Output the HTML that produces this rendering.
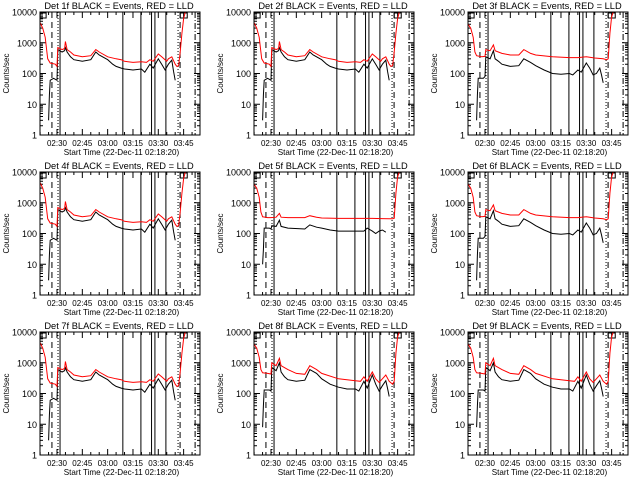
<!DOCTYPE html>
<html><head><meta charset="utf-8"><style>
html,body{margin:0;padding:0;background:#fff;}
svg{display:block;font-family:"Liberation Sans",sans-serif;}
</style></head><body>
<svg id="chart" width="640" height="480" viewBox="0 0 640 480" xmlns="http://www.w3.org/2000/svg">
<rect x="0" y="0" width="640" height="480" fill="#fff"/>
</svg>
<script>
// Time in minutes relative to 02:30 (start 02:18:20 is about -10)
const tickLabels = ["02:30","02:45","03:00","03:15","03:30","03:45"];
const tickMinutes = [0,15,30,45,60,75];
const yTickValues = [1,10,100,1000,10000];
const yTickLabels = ["1","10","100","1000","10000"];
const panelTitles = ["Det 1f","Det 2f","Det 3f","Det 4f","Det 5f","Det 6f","Det 7f","Det 8f","Det 9f"];
const profileOfPanel = [0,0,1,0,2,1,0,3,3];

// Profile A (Det 1,2,4,7)
const redT_A = [-10,-8.5,-7,-6,-5.5,-4,-1,0,0.5,3,4.5,5,6,8,10,15,20,23,25,30,35,38,40,45,50,53,55,57,60,62,65,66,68,70,71,72,73,74,75,76,84.7];
const redV_A = [4500,3000,1500,500,300,220,200,170,700,600,650,1100,600,500,400,350,380,600,500,350,300,280,250,230,240,230,280,250,430,350,250,300,350,200,170,180,500,2000,6000,10000,10000];
const blkT_A = [-5,-4.5,-4,-2,0,0.5,3,4.5,5,6,8,10,15,20,23,25,30,33,35,38,40,45,50,52,55,57,60,62,64,66,68,69,70];
const blkV_A = [3,20,60,70,60,600,500,550,700,500,350,280,250,280,500,400,280,200,170,150,140,130,140,110,200,150,300,200,130,200,270,120,60];
// Profile B (Det 3,6)
const redT_B = [-10,-8.5,-7,-6,-5,-2,0,0.5,3,5,6,10,15,20,23,27,30,40,50,55,60,65,70,72,73,74,75,76,84.7];
const redV_B = [4000,3000,1500,500,380,350,360,600,550,850,550,450,400,400,600,450,400,350,330,330,350,320,300,280,300,2000,7000,10000,10000];
const blkT_B = [-5,-4.5,-4,-2,-1,0,0.5,3,5,6,8,10,15,20,23,27,30,35,40,45,50,52,55,57,60,62,64,66,68,69,70];
const blkV_B = [3,20,70,70,70,80,350,300,550,300,250,200,170,180,300,230,180,130,100,95,100,90,130,110,220,150,90,100,150,90,50];
// Profile C (Det 5)
const redT_C = [-10,-8.5,-7,-6,-5,-2,0,3,5,6,10,20,23,27,30,40,50,60,70,72,73,74,75,76,84.7];
const redV_C = [4000,3000,1500,500,350,330,330,340,450,340,330,330,380,340,320,310,310,310,300,300,310,2000,7000,10000,10000];
const blkT_C = [-5,-4.5,-4,-2,-1,0,0.5,3,5,6,10,20,23,27,30,35,40,50,55,57,60,62,64,66,68];
const blkV_C = [10,30,150,150,150,140,180,170,270,170,150,140,190,160,150,130,120,120,120,150,120,100,120,130,110];
// Profile D (Det 8,9)
const redT_D = [-10,-8.5,-7,-6,-5,-2,0,0.5,3,5,6,10,15,20,23,27,30,40,50,53,55,57,60,62,64,66,68,70,72,73,74,75,76,84.7];
const redV_D = [4000,3000,1500,600,470,450,430,1000,800,1400,800,600,450,420,800,600,450,300,260,250,350,250,500,300,230,300,400,250,200,250,2000,7000,10000,10000];
const blkT_D = [-5,-4.5,-4,-2,-1,0,0.5,3,5,6,8,10,15,20,23,27,30,35,40,45,50,52,55,57,60,62,64,66,68,69,70];
const blkV_D = [8,40,130,130,130,120,700,550,1000,500,350,280,250,270,600,450,300,200,160,140,140,120,250,150,400,200,120,180,260,150,80];

const redTimes = [redT_A, redT_B, redT_C, redT_D];
const redVals = [redV_A, redV_B, redV_C, redV_D];
const blkTimes = [blkT_A, blkT_B, blkT_C, blkT_D];
const blkVals = [blkV_A, blkV_B, blkV_C, blkV_D];

const markerMinutes = [-3,0.6,1.8,39,49.7,56,58,64.5,71.7,72.9,81.8];
const markerStyles = ["dash","dot","solid","solid","solid","solid","solid","solid","dot","dash","dashdot"];

const NS = "http://www.w3.org/2000/svg";
const svg = document.getElementById("chart");
const colX = [40,254,468], rowY = [12,172,332], W = 160, H = 123;
const tMin = -10.07, tMax = 84.7;

function el(tag, attrs, parent) {
  const e = document.createElementNS(NS, tag);
  for (const k in attrs) e.setAttribute(k, attrs[k]);
  (parent || svg).appendChild(e);
  return e;
}

for (let p = 0; p < 9; p++) {
  const x0 = colX[p % 3], y0 = rowY[Math.floor(p / 3)];
  const xs = t => x0 + (t - tMin) / (tMax - tMin) * W;
  const ys = v => y0 + (4 - Math.log10(v)) / 4 * H;
  const g = el("g", {});
  
  

  const title = el("text", {x: x0 + 79, y: y0 - 3, "text-anchor": "middle", "font-size": "9.3"}, g);
  
  
  title.textContent = panelTitles[p] + " BLACK = Events, RED = LLD";

  const cid = "clip" + p;
  const cp = el("clipPath", {id: cid}, g);
  el("rect", {x: x0, y: y0, width: W, height: H}, cp);

  yTickValues.forEach((v, i) => {
    const y = ys(v);
    const lab = el("text", {x: x0 - 3, y: y + 3.5, "text-anchor": "end", "font-size": "9"}, g);
    
    
    lab.textContent = yTickLabels[i];
    el("line", {x1: x0, x2: x0 + 6, y1: y, y2: y, stroke: "#000"}, g);
    el("line", {x1: x0 + W - 6, x2: x0 + W, y1: y, y2: y, stroke: "#000"}, g);
    if (i < yTickValues.length - 1) {
      for (let m = 2; m < 10; m++) {
        const ym = ys(v * m);
        el("line", {x1: x0, x2: x0 + 3, y1: ym, y2: ym, stroke: "#000"}, g);
        el("line", {x1: x0 + W - 3, x2: x0 + W, y1: ym, y2: ym, stroke: "#000"}, g);
      }
    }
  });
  for (let m = -10; m <= 85; m += 5) {
    if (m < tMin || m > tMax) continue;
    const x = xs(m), len = (m % 15 === 0) ? 6 : 3;
    el("line", {x1: x, x2: x, y1: y0 + H, y2: y0 + H - len, stroke: "#000"}, g);
    el("line", {x1: x, x2: x, y1: y0, y2: y0 + len, stroke: "#000"}, g);
  }
  tickMinutes.forEach((m, i) => {
    const lab = el("text", {x: xs(m), y: y0 + H + 11, "text-anchor": "middle", "font-size": "8"}, g);
    
    
    lab.textContent = tickLabels[i];
  });
  const xt = el("text", {x: x0 + 81.5, y: y0 + H + 20, "text-anchor": "middle", "font-size": "8.1"}, g);
  
  
  xt.textContent = "Start Time (22-Dec-11 02:18:20)";
  const yt = el("text", {x: 0, y: 0, "text-anchor": "middle", "font-size": "8", transform: "translate(" + (x0 - 31) + "," + (y0 + H / 2) + ") rotate(-90)"}, g);
  
  
  yt.textContent = "Counts/sec";

  const pr = profileOfPanel[p];
  const inner = el("g", {"clip-path": "url(#" + cid + ")"}, g);
  markerMinutes.forEach((m, i) => {
    const s = markerStyles[i];
    const da = s === "dash" ? "6,4" : s === "dot" ? "1,2" : s === "dashdot" ? "6,2,1,2" : "none";
    const ln = el("line", {x1: xs(m), x2: xs(m), y1: y0, y2: y0 + H, stroke: "#000", "stroke-width": 1, "stroke-dasharray": da}, inner);
    
    
  });
  el("rect", {x: xs(-10), y: y0 + 1, width: 6, height: 5, fill: "none", stroke: "#000"}, inner);
  el("rect", {x: xs(73), y: y0 + 1, width: 7, height: 5, fill: "none", stroke: "#000"}, inner);

  const mk = (T, V, col, name) => {
    let d = "";
    T.forEach((t, i) => { d += (i ? "L" : "M") + xs(t).toFixed(1) + "," + ys(V[i]).toFixed(1); });
    const path = el("path", {d: d, fill: "none", stroke: col, "stroke-width": 1}, inner);
    
    
  };
  mk(blkTimes[pr], blkVals[pr], "#000", "events-series");
  mk(redTimes[pr], redVals[pr], "#f00", "lld-series");

  const box = el("rect", {x: x0, y: y0, width: W, height: H, fill: "none", stroke: "#000"}, g);
  
  
}
</script>
</body></html>
